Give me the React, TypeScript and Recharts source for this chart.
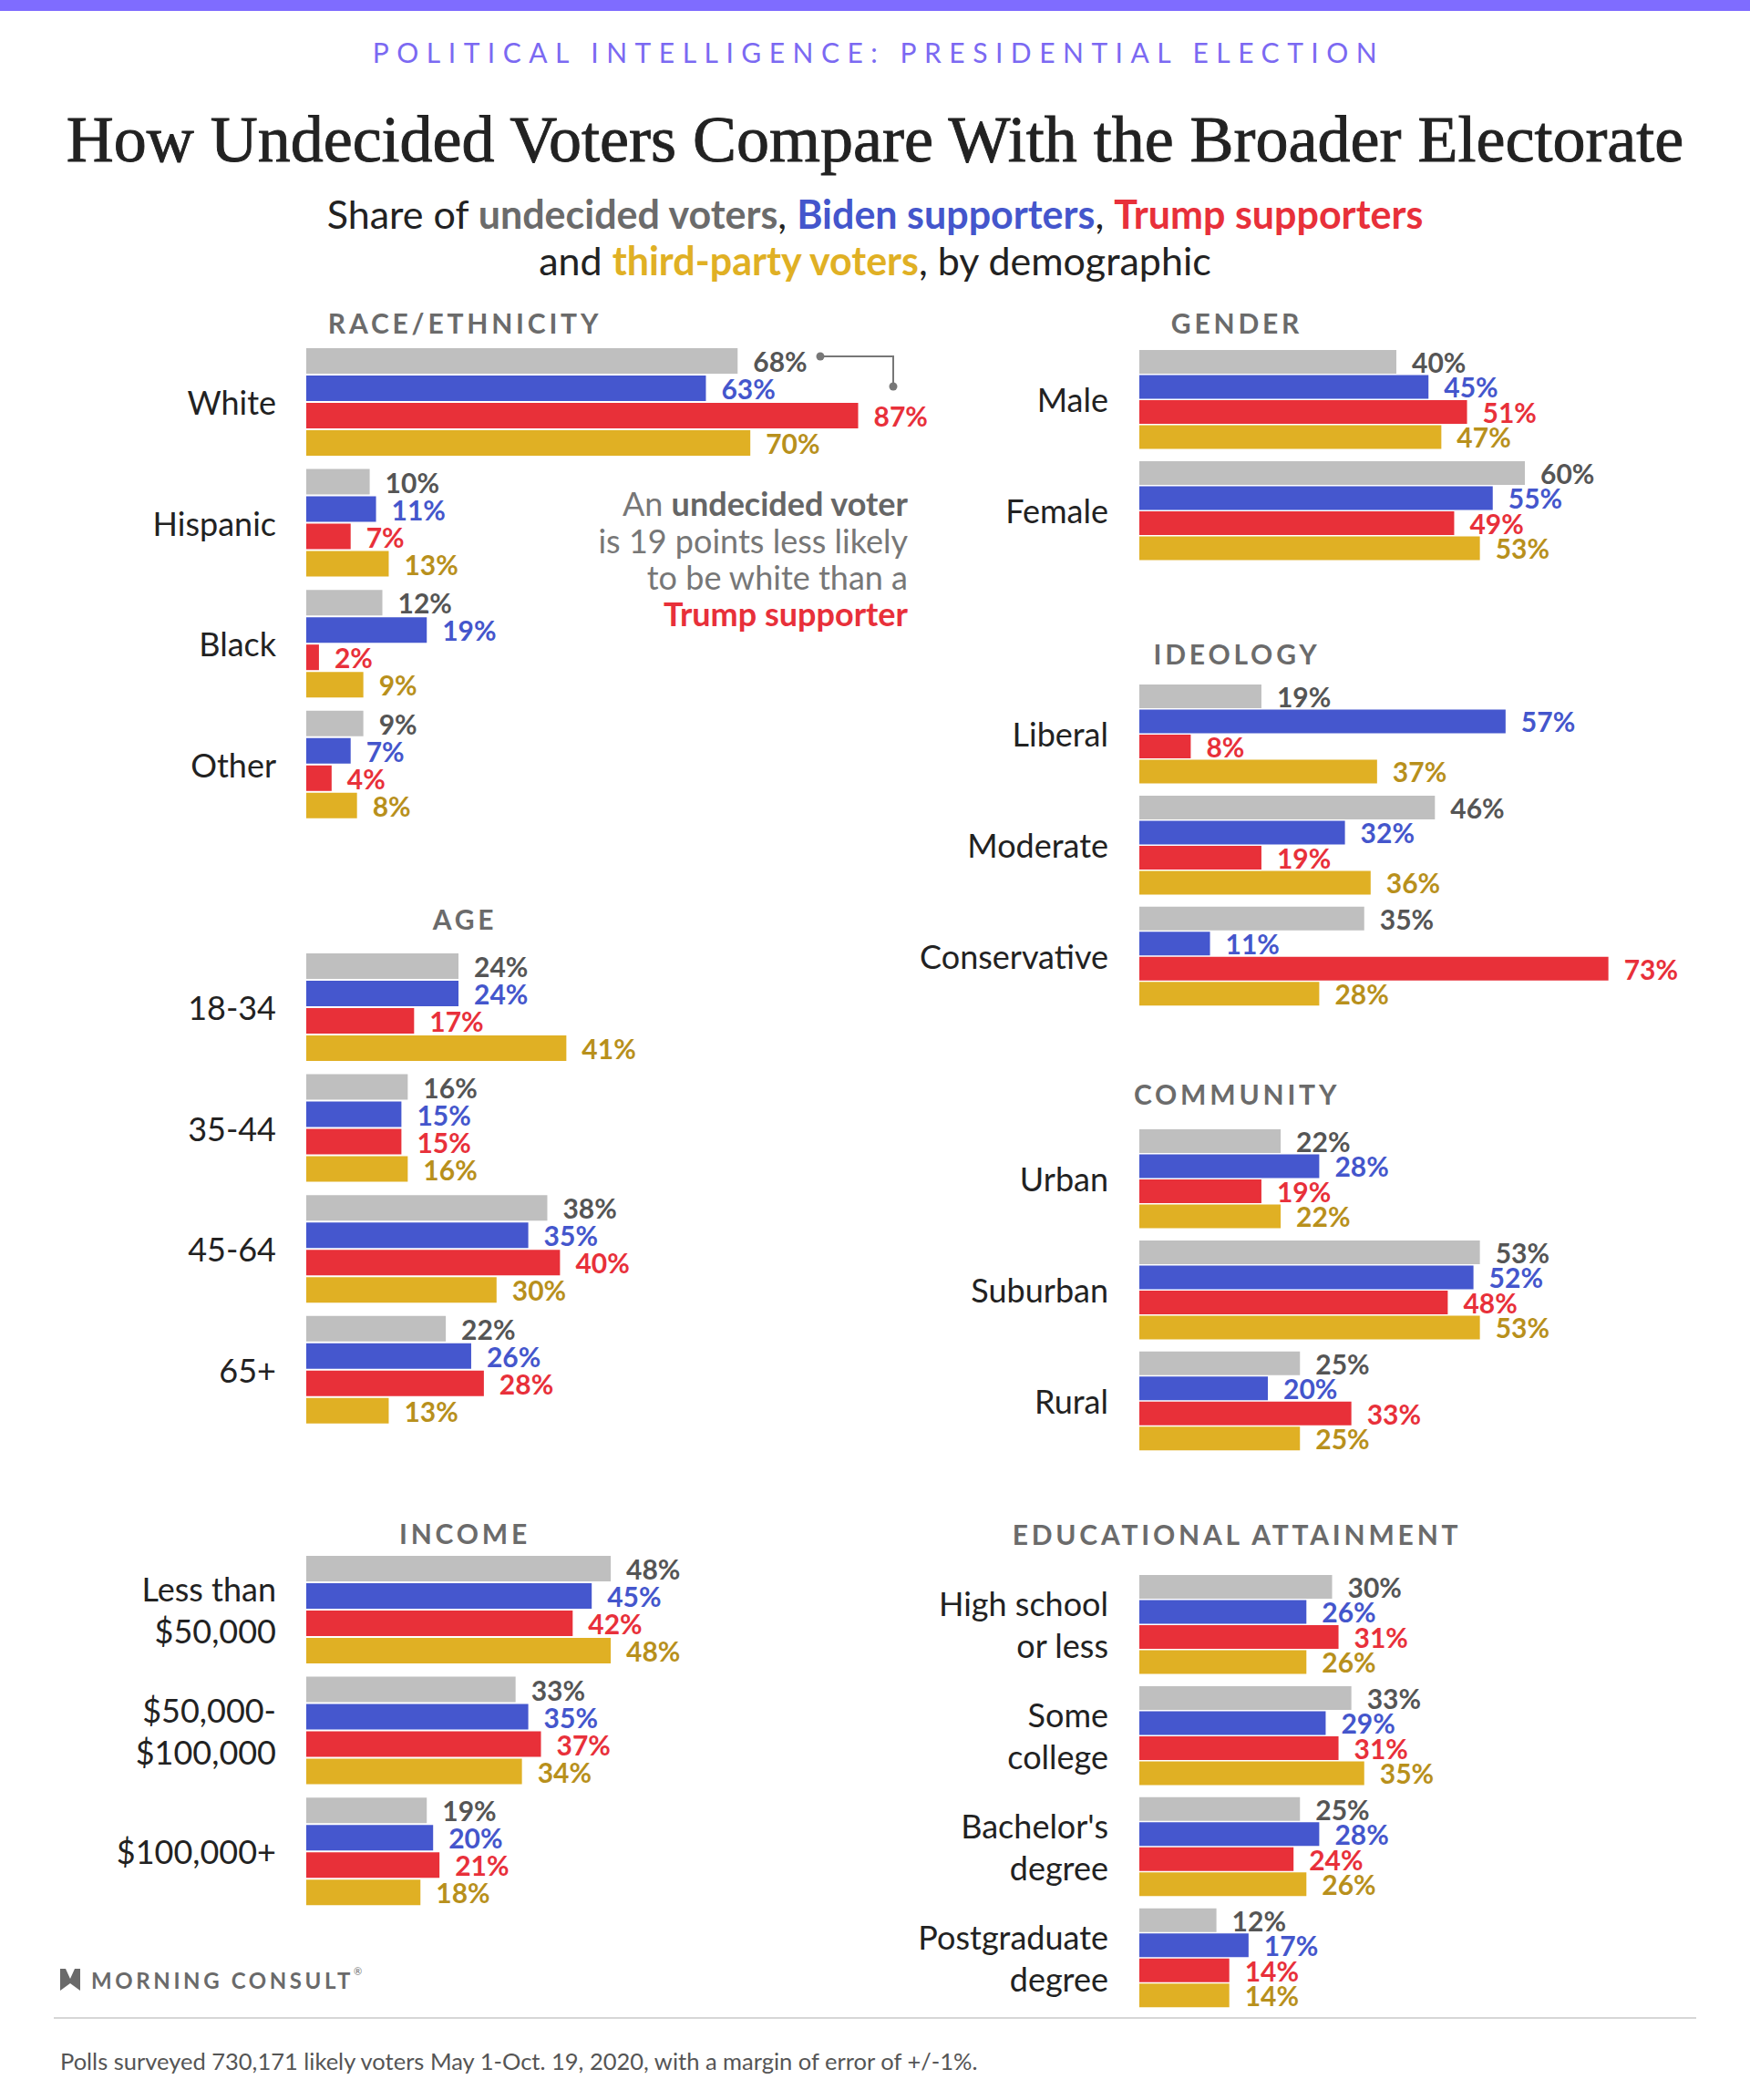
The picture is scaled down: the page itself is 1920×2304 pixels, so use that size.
import { Bar, BarChart, LabelList, XAxis, YAxis } from 'recharts'

const SANS = 'Lato, "Noto Sans", sans-serif'

const COLORS = {
  undecided: '#BFBFBF',
  biden: '#4557CE',
  trump: '#E83039',
  third: '#E0B024',
}
const LABEL_COLORS = {
  undecided: '#555555',
  biden: '#4456CC',
  trump: '#E8303A',
  third: '#B8901C',
}
const SERIES = ['undecided', 'biden', 'trump', 'third'] as const

// --- data ---
const RACE_CATS = ['White', 'Hispanic', 'Black', 'Other']
const RACE_UNDECIDED = [68, 10, 12, 9]
const RACE_BIDEN = [63, 11, 19, 7]
const RACE_TRUMP = [87, 7, 2, 4]
const RACE_THIRD = [70, 13, 9, 8]

const AGE_CATS = ['18-34', '35-44', '45-64', '65+']
const AGE_UNDECIDED = [24, 16, 38, 22]
const AGE_BIDEN = [24, 15, 35, 26]
const AGE_TRUMP = [17, 15, 40, 28]
const AGE_THIRD = [41, 16, 30, 13]

const INCOME_CATS = ['Less than\n$50,000', '$50,000-\n$100,000', '$100,000+']
const INCOME_UNDECIDED = [48, 33, 19]
const INCOME_BIDEN = [45, 35, 20]
const INCOME_TRUMP = [42, 37, 21]
const INCOME_THIRD = [48, 34, 18]

const GENDER_CATS = ['Male', 'Female']
const GENDER_UNDECIDED = [40, 60]
const GENDER_BIDEN = [45, 55]
const GENDER_TRUMP = [51, 49]
const GENDER_THIRD = [47, 53]

const IDEOLOGY_CATS = ['Liberal', 'Moderate', 'Conservative']
const IDEOLOGY_UNDECIDED = [19, 46, 35]
const IDEOLOGY_BIDEN = [57, 32, 11]
const IDEOLOGY_TRUMP = [8, 19, 73]
const IDEOLOGY_THIRD = [37, 36, 28]

const COMMUNITY_CATS = ['Urban', 'Suburban', 'Rural']
const COMMUNITY_UNDECIDED = [22, 53, 25]
const COMMUNITY_BIDEN = [28, 52, 20]
const COMMUNITY_TRUMP = [19, 48, 33]
const COMMUNITY_THIRD = [22, 53, 25]

const EDU_CATS = ['High school\nor less', 'Some\ncollege', "Bachelor's\ndegree", 'Postgraduate\ndegree']
const EDU_UNDECIDED = [30, 33, 25, 12]
const EDU_BIDEN = [26, 29, 28, 17]
const EDU_TRUMP = [31, 31, 24, 14]
const EDU_THIRD = [26, 35, 26, 14]

type Row = { name: string; undecided: number; biden: number; trump: number; third: number }

function rows(cats: string[], u: number[], b: number[], t: number[], th: number[]): Row[] {
  return cats.map((name, i) => ({ name, undecided: u[i], biden: b[i], trump: t[i], third: th[i] }))
}

function CatTick(props: any) {
  const { x, y, payload } = props
  const lines = String(payload.value).split('\n')
  const lh = 46
  const start = y - ((lines.length - 1) * lh) / 2
  return (
    <text x={x} y={start} textAnchor="end" fontFamily={SANS} fontSize={36} fill="#222">
      {lines.map((l, i) => (
        <tspan key={i} x={x} y={start + i * lh} dominantBaseline="central">
          {l}
        </tspan>
      ))}
    </text>
  )
}

function valueLabel(color: string) {
  return (props: any) => {
    const { x, y, width, height, value } = props
    return (
      <text
        x={x + width + 17}
        y={y + height / 2}
        dominantBaseline="central"
        fontFamily={SANS}
        fontWeight={700}
        fontSize={30}
        fill={color}
      >
        {value}%
      </text>
    )
  }
}

type SectionProps = {
  data: Row[]
  left: number
  top: number
  axisW: number
  plotW: number
  pxPerPt: number
  pitch: number
  barSize: number
  barGap: number
  labelGap: number
}

function Section({ data, left, top, axisW, plotW, pxPerPt, pitch, barSize, barGap, labelGap }: SectionProps) {
  return (
    <div style={{ position: 'absolute', left, top }}>
      <BarChart
        width={axisW + plotW}
        height={data.length * pitch}
        data={data}
        layout="vertical"
        margin={{ top: 0, right: 0, bottom: 0, left: 0 }}
        barSize={barSize}
        barGap={barGap}
      >
        <XAxis type="number" hide domain={[0, plotW / pxPerPt]} allowDataOverflow />
        <YAxis
          type="category"
          dataKey="name"
          width={axisW}
          axisLine={false}
          tickLine={false}
          tickSize={0}
          tickMargin={labelGap}
          interval={0}
          tick={<CatTick />}
        />
        {SERIES.map((s) => (
          <Bar key={s} dataKey={s} fill={COLORS[s]} isAnimationActive={false}>
            <LabelList dataKey={s} content={valueLabel(LABEL_COLORS[s])} />
          </Bar>
        ))}
      </BarChart>
    </div>
  )
}

const LEFT = { left: 0, axisW: 336, plotW: 700, pxPerPt: 6.96, pitch: 132.6, barSize: 28, barGap: 2, labelGap: 33 }
const RIGHT = { left: 960, axisW: 290, plotW: 660, pxPerPt: 7.05, pitch: 121.9, barSize: 26, barGap: 1.5, labelGap: 34 }

const sectionTitle = (x: number, y: number, text: string) => (
  <text
    x={x}
    y={y}
    textAnchor="middle"
    dominantBaseline="central"
    fontFamily={SANS}
    fontWeight={700}
    fontSize={30}
    letterSpacing={3.8}
    fill="#6b6b6b"
  >
    {text}
  </text>
)

export default function App() {
  return (
    <div
      style={{
        position: 'absolute',
        left: 0,
        top: 0,
        width: 1920,
        height: 2304,
        background: '#fff',
        overflow: 'hidden',
      }}
    >
      <Section data={rows(RACE_CATS, RACE_UNDECIDED, RACE_BIDEN, RACE_TRUMP, RACE_THIRD)} top={374.7} {...LEFT} />
      <Section data={rows(AGE_CATS, AGE_UNDECIDED, AGE_BIDEN, AGE_TRUMP, AGE_THIRD)} top={1038.6} {...LEFT} />
      <Section
        data={rows(INCOME_CATS, INCOME_UNDECIDED, INCOME_BIDEN, INCOME_TRUMP, INCOME_THIRD)}
        top={1699.7}
        {...LEFT}
      />
      <Section
        data={rows(GENDER_CATS, GENDER_UNDECIDED, GENDER_BIDEN, GENDER_TRUMP, GENDER_THIRD)}
        top={376.7}
        {...RIGHT}
      />
      <Section
        data={rows(IDEOLOGY_CATS, IDEOLOGY_UNDECIDED, IDEOLOGY_BIDEN, IDEOLOGY_TRUMP, IDEOLOGY_THIRD)}
        top={744}
        {...RIGHT}
      />
      <Section
        data={rows(COMMUNITY_CATS, COMMUNITY_UNDECIDED, COMMUNITY_BIDEN, COMMUNITY_TRUMP, COMMUNITY_THIRD)}
        top={1231.7}
        {...RIGHT}
      />
      <Section data={rows(EDU_CATS, EDU_UNDECIDED, EDU_BIDEN, EDU_TRUMP, EDU_THIRD)} top={1720.8} {...RIGHT} />

      <svg
        width={1920}
        height={2304}
        style={{ position: 'absolute', left: 0, top: 0, pointerEvents: 'none' }}
      >
        <rect x={0} y={0} width={1920} height={12} fill="#7F6CFF" />
        <text
          x={964}
          y={57}
          textAnchor="middle"
          dominantBaseline="central"
          fontFamily={SANS}
          fontSize={30}
          letterSpacing={8.5}
          fill="#7B69F2"
        >
          POLITICAL INTELLIGENCE: PRESIDENTIAL ELECTION
        </text>
        <text
          x={960}
          y={153}
          textAnchor="middle"
          dominantBaseline="central"
          fontFamily='"Liberation Serif", "DejaVu Serif", serif'
          fontSize={72}
          fill="#222"
          stroke="#222"
          strokeWidth={0.9}
        >
          How Undecided Voters Compare With the Broader Electorate
        </text>
        <text x={960} y={234} textAnchor="middle" dominantBaseline="central" fontFamily={SANS} fontSize={43} fill="#222">
          Share of{' '}
          <tspan fontWeight={700} fill="#6b6b6b">
            undecided voters
          </tspan>
          ,{' '}
          <tspan fontWeight={700} fill="#4456CC">
            Biden supporters
          </tspan>
          ,{' '}
          <tspan fontWeight={700} fill="#E8303A">
            Trump supporters
          </tspan>
        </text>
        <text x={960} y={285} textAnchor="middle" dominantBaseline="central" fontFamily={SANS} fontSize={43} fill="#222">
          and{' '}
          <tspan fontWeight={700} fill="#E0B024">
            third-party voters
          </tspan>
          , by demographic
        </text>

        {sectionTitle(510, 354, 'RACE/ETHNICITY')}
        {sectionTitle(510, 1008, 'AGE')}
        {sectionTitle(510, 1682, 'INCOME')}
        {sectionTitle(1357, 354, 'GENDER')}
        {sectionTitle(1357, 717, 'IDEOLOGY')}
        {sectionTitle(1357, 1200, 'COMMUNITY')}
        {sectionTitle(1357, 1683, 'EDUCATIONAL ATTAINMENT')}

        {/* annotation */}
        <polyline points="900,391 980,391 980,424" fill="none" stroke="#777" strokeWidth={2} />
        <circle cx={900} cy={391} r={4.5} fill="#777" />
        <circle cx={980} cy={424} r={4.5} fill="#777" />
        <g fontFamily={SANS} fontSize={36} textAnchor="end" fill="#777">
          <text x={996} y={552} dominantBaseline="central">
            An{' '}
            <tspan fontWeight={700} fill="#666">
              undecided voter
            </tspan>
          </text>
          <text x={996} y={593} dominantBaseline="central">
            is 19 points less likely
          </text>
          <text x={996} y={633} dominantBaseline="central">
            to be white than a
          </text>
          <text x={996} y={673} dominantBaseline="central" fontWeight={700} fill="#E8303A">
            Trump supporter
          </text>
        </g>

        {/* footer */}
        <path d="M66 2160 L72 2160 L77 2171 L82 2160 L88 2160 L88 2184 L77 2176 L66 2184 Z" fill="#6a6a6a" />
        <text
          x={100}
          y={2172}
          dominantBaseline="central"
          fontFamily={SANS}
          fontWeight={700}
          fontSize={24}
          letterSpacing={3.6}
          fill="#6a6a6a"
        >
          MORNING CONSULT
          <tspan fontSize={11} dy={-10} fontWeight={400}>
            ®
          </tspan>
        </text>
        <line x1={59} y1={2214} x2={1861} y2={2214} stroke="#d6d6d6" strokeWidth={2} />
        <text x={66} y={2261} dominantBaseline="central" fontFamily={SANS} fontSize={25.5} fill="#555">
          Polls surveyed 730,171 likely voters May 1-Oct. 19, 2020, with a margin of error of +/-1%.
        </text>
      </svg>
    </div>
  )
}
